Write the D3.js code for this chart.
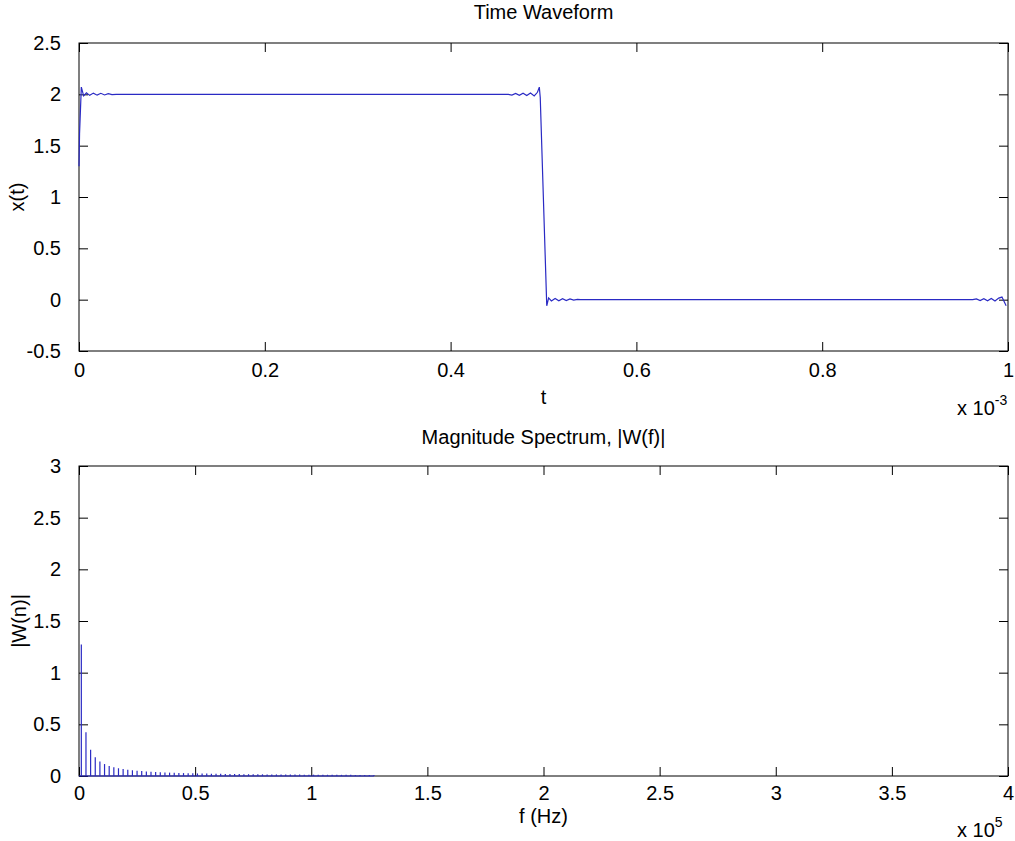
<!DOCTYPE html>
<html><head><meta charset="utf-8">
<script src="https://cdn.jsdelivr.net/npm/d3@7"></script>
<style>
body{margin:0;background:#fff;}
svg text{font-family:"Liberation Sans",Arial,sans-serif;fill:#000;}
</style></head>
<body><svg id="c" width="1015" height="841"></svg>
<script>
// ---- Time waveform (t in units of 1e-3 s) ----
const timeT = [0,0.0006,0.0025,0.005,0.008,0.0115,0.0155,0.0195,0.0235,0.0275,0.0315,0.0355,0.04,
  0.462,0.466,0.47,0.474,0.478,0.482,0.486,0.49,0.4935,0.4955,0.4965,0.5035,0.5055,0.5085,0.5125,0.5165,0.5205,0.5245,0.5285,0.5325,0.5365,0.54,
  0.962,0.966,0.97,0.974,0.978,0.982,0.986,0.99,0.9935,0.998];
const timeX = [1.30,1.62,2.07,1.985,2.015,1.99,2.012,1.992,2.01,1.994,2.007,1.998,2.0,
  2.0,1.993,2.008,1.99,2.01,1.988,2.012,1.985,2.02,2.07,1.97,-0.06,0.017,-0.012,0.012,-0.01,0.009,-0.008,0.007,-0.005,0.003,0.0,
  0.0,0.008,-0.008,0.01,-0.01,0.012,-0.012,0.015,0.025,-0.06];
const timeXTicks = ["0","0.2","0.4","0.6","0.8","1"];
const timeYTicks = [-0.5,0,0.5,1,1.5,2,2.5];

// ---- Magnitude spectrum (f in units of 1e5 Hz) ----
const specF = [0.01,0.03,0.05,0.07,0.09,0.11,0.13,0.15,0.17,0.19,0.21,0.23,0.25,0.27,0.29,0.31,
  0.33,0.35,0.37,0.39,0.41,0.43,0.45,0.47,0.49,0.51,0.53,0.55,0.57,0.59,0.61,0.63,
  0.65,0.67,0.69,0.71,0.73,0.75,0.77,0.79,0.81,0.83,0.85,0.87,0.89,0.91,0.93,0.95,
  0.97,0.99,1.01,1.03,1.05,1.07,1.09,1.11,1.13,1.15,1.17,1.19,1.21,1.23,1.25,1.27];
const specW = [1.273,0.4244,0.2546,0.1819,0.1415,0.1157,0.0979,0.0849,0.0749,0.0670,0.0606,0.0554,0.0509,0.0472,0.0439,0.0411,
  0.0386,0.0364,0.0344,0.0326,0.0311,0.0296,0.0283,0.0271,0.0260,0.0250,0.0240,0.0231,0.0223,0.0216,0.0209,0.0202,
  0.0196,0.0190,0.0185,0.0179,0.0174,0.0170,0.0165,0.0161,0.0157,0.0153,0.0150,0.0146,0.0143,0.0140,0.0137,0.0134,
  0.0131,0.0129,0.0126,0.0124,0.0121,0.0119,0.0117,0.0115,0.0113,0.0111,0.0109,0.0107,0.0105,0.0104,0.0102,0.0100];
const specXTicks = [0,0.5,1,1.5,2,2.5,3,3.5,4];
const specYTicks = [0,0.5,1,1.5,2,2.5,3];

const svg = d3.select("#c");
const FS = 20;
const lineColor = "#2a2ac4";

function panel(opts){
  const {left,right,top,bottom,xDom,yDom,xTicks,xFmt,yTicks,title,xlab,ylab,expo,
         titleY,tickY,xlabY,expoY,ylabX} = opts;
  const x = d3.scaleLinear().domain(xDom).range([left,right]);
  const y = d3.scaleLinear().domain(yDom).range([bottom,top]);
  const g = svg.append("g");
  const tk = 9;
  const ax = g.append("g").attr("transform",`translate(0,${bottom})`)
    .call(d3.axisBottom(x).tickValues(xTicks).tickFormat(xFmt).tickSizeInner(-tk).tickSizeOuter(0));
  ax.selectAll("text").attr("dy",null).attr("y",tickY-bottom);
  const axT = g.append("g").attr("transform",`translate(0,${top})`)
    .call(d3.axisTop(x).tickValues(xTicks).tickFormat("").tickSizeInner(-tk).tickSizeOuter(0));
  const ay = g.append("g").attr("transform",`translate(${left},0)`)
    .call(d3.axisLeft(y).tickValues(yTicks).tickFormat(d=>String(d)).tickSizeInner(-tk).tickSizeOuter(0).tickPadding(tk+9));
  const ayR = g.append("g").attr("transform",`translate(${right},0)`)
    .call(d3.axisRight(y).tickValues(yTicks).tickFormat("").tickSizeInner(-tk).tickSizeOuter(0));
  [ax,axT,ay,ayR].forEach(a=>{
    a.select(".domain").remove();
    a.selectAll("line").attr("stroke","#000");
    a.selectAll("text").style("font-size",FS+"px").attr("fill","#000");
  });
  g.append("rect").attr("x",left).attr("y",top).attr("width",right-left).attr("height",bottom-top)
    .attr("fill","none").attr("stroke","#000").attr("stroke-width",1);
  g.append("text").attr("x",(left+right)/2).attr("y",titleY).attr("text-anchor","middle")
    .style("font-size",FS+"px").text(title);
  g.append("text").attr("x",(left+right)/2).attr("y",xlabY).attr("text-anchor","middle")
    .style("font-size",FS+"px").text(xlab);
  g.append("text").attr("transform",`translate(${ylabX},${(top+bottom)/2}) rotate(-90)`).attr("text-anchor","middle")
    .style("font-size",FS+"px").text(ylab);
  const ex = g.append("text").attr("x",right-51).attr("y",expoY).style("font-size",FS+"px");
  ex.append("tspan").text("x 10");
  ex.append("tspan").attr("dy",-10).style("font-size","14px").text(expo);
  return {x,y,g};
}

const p1 = panel({left:79,right:1008,top:43,bottom:351,xDom:[0,1],yDom:[-0.5,2.5],
  xTicks:[0,0.2,0.4,0.6,0.8,1],xFmt:(d,i)=>timeXTicks[i],yTicks:timeYTicks,
  title:"Time Waveform",xlab:"t",ylab:"x(t)",expo:"-3",
  titleY:19,tickY:377,xlabY:404,expoY:415,ylabX:24});
const pts = timeT.map((t,i)=>[t,timeX[i]]);
p1.g.append("path").datum(pts)
  .attr("d",d3.line().x(d=>p1.x(d[0])).y(d=>p1.y(d[1])))
  .attr("fill","none").attr("stroke",lineColor).attr("stroke-width",1.2);

const p2 = panel({left:79,right:1008,top:466,bottom:776,xDom:[0,4],yDom:[0,3],
  xTicks:specXTicks,xFmt:d=>String(d),yTicks:specYTicks,
  title:"Magnitude Spectrum, |W(f)|",xlab:"f (Hz)",ylab:"|W(n)|",expo:"5",
  titleY:444,tickY:800,xlabY:823,expoY:837,ylabX:26});
p2.g.append("line").attr("x1",p2.x(0)).attr("x2",p2.x(specF[specF.length-1]))
  .attr("y1",p2.y(0)).attr("y2",p2.y(0)).attr("stroke",lineColor).attr("stroke-width",1);
p2.g.selectAll("line.stem").data(specF).enter().append("line").attr("class","stem")
  .attr("x1",d=>p2.x(d)).attr("x2",d=>p2.x(d))
  .attr("y1",p2.y(0)).attr("y2",(d,i)=>p2.y(specW[i]))
  .attr("stroke",lineColor).attr("stroke-width",1.2);
</script></body></html>
